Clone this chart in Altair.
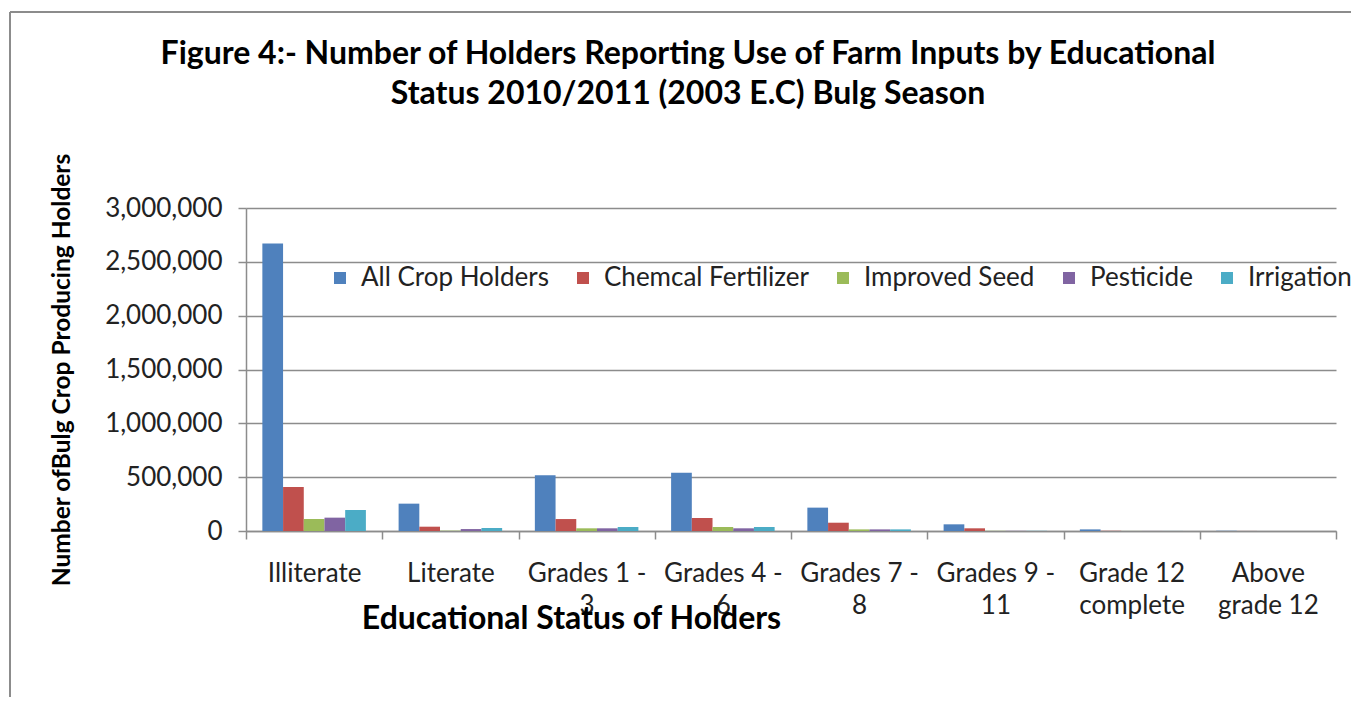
import altair as alt
import pandas as pd

categories = ["Illiterate", "Literate", "Grades 1 - 3", "Grades 4 - 6", "Grades 7 - 8",
              "Grades 9 - 11", "Grade 12 complete", "Above grade 12"]
category_lines = [["Illiterate"], ["Literate"], ["Grades 1 -", "3"], ["Grades 4 -", "6"],
                  ["Grades 7 -", "8"], ["Grades 9 -", "11"], ["Grade 12", "complete"],
                  ["Above", "grade 12"]]
series = ["All Crop Holders", "Chemcal Fertilizer", "Improved Seed", "Pesticide", "Irrigation"]
all_crop = [2670000, 254000, 518000, 540000, 217000, 62000, 15000, 2000]
chem_fert = [409000, 40000, 111000, 121000, 77000, 25000, 2000, 500]
improved_seed = [111000, 3000, 25000, 37000, 15000, 1500, 500, 200]
pesticide = [124000, 18000, 25000, 25000, 15000, 1500, 500, 200]
irrigation = [195000, 28000, 37000, 37000, 15000, 1500, 500, 200]
colors = ["#4F81BD", "#C0504D", "#9BBB59", "#8064A2", "#4BACC6"]
y_ticks = [0, 500000, 1000000, 1500000, 2000000, 2500000, 3000000]

rows = []
for s, vals in zip(series, [all_crop, chem_fert, improved_seed, pesticide, irrigation]):
    for c, v in zip(categories, vals):
        rows.append({"category": c, "series": s, "value": v})
df = pd.DataFrame(rows)

expr = "datum.label"
for c, lines in zip(categories, category_lines):
    arr = "[" + ",".join("'" + l + "'" for l in lines) + "]"
    expr = f"datum.label == '{c}' ? {arr} : ({expr})"

FONT = "Lato"
W, H = 1090, 323

bars = alt.Chart(df).mark_bar().encode(
    x=alt.X("category:N", sort=categories,
            scale=alt.Scale(paddingInner=0, paddingOuter=0),
            axis=alt.Axis(title="Educational Status of Holders", labelExpr=expr,
                          labelAngle=0, labelFontSize=26, labelColor="#222222",
                          labelLineHeight=32, labelPadding=21, tickBand="extent",
                          tickSize=8, tickColor="#8c8c8c", domainColor="#8c8c8c",
                          tickWidth=1.5, domainWidth=1.5, grid=False,
                          titleFontSize=32, titleFontWeight="bold", titleColor="#000000",
                          titleX=325, titleY=72, titleBaseline="top")),
    xOffset=alt.XOffset("series:N", sort=series,
                        scale=alt.Scale(paddingInner=0, paddingOuter=0.79)),
    y=alt.Y("value:Q", scale=alt.Scale(domain=[0, 3000000], nice=False),
            axis=alt.Axis(title="Number ofBulg Crop Producing Holders", values=y_ticks,
                          labelExpr="format(datum.value, ',')",
                          labelFontSize=26, labelColor="#222222",
                          labelPadding=16, tickSize=8, tickColor="#8c8c8c",
                          domainColor="#8c8c8c", gridColor="#8c8c8c", gridWidth=1.5,
                          tickWidth=1.5, domainWidth=1.5,
                          titleFontSize=24.5, titleFontWeight="bold", titleColor="#000000",
                          titleX=-184, titleY=H / 2, titleBaseline="middle")),
    color=alt.Color("series:N", sort=series,
                    scale=alt.Scale(domain=series, range=colors),
                    legend=alt.Legend(title=None, orient="none", legendX=81, legendY=57,
                                      direction="horizontal", symbolType="square",
                                      symbolSize=144, symbolStrokeWidth=0,
                                      labelFontSize=26, labelColor="#222222",
                                      labelLimit=500, columnPadding=21, labelOffset=8)),
)

frame_left = alt.Chart(alt.Data(values=[{}])).mark_rule(color="#8c8c8c", strokeWidth=2).encode(
    x=alt.value(-236), y=alt.value(-196), y2=alt.value(H + 170))
frame_top = alt.Chart(alt.Data(values=[{}])).mark_rule(color="#8c8c8c", strokeWidth=2).encode(
    x=alt.value(-236), x2=alt.value(W + 30), y=alt.value(-196))

chart = alt.layer(bars, frame_left, frame_top).properties(
    width=W, height=H,
    title=alt.TitleParams(
        text=["Figure 4:- Number of Holders Reporting Use of Farm Inputs by Educational",
              "Status 2010/2011 (2003 E.C) Bulg Season"],
        fontSize=32, fontWeight="bold", font=FONT, anchor="middle", dx=-103,
        offset=-100, lineHeight=40, color="#000000"),
    padding={"left": 238, "top": 200, "right": 15, "bottom": 166},
    autosize=alt.AutoSizeParams(type="none"),
).configure(font=FONT).configure_view(stroke=None)

chart.save("out.html", embed_options={"renderer": "svg", "actions": False})
